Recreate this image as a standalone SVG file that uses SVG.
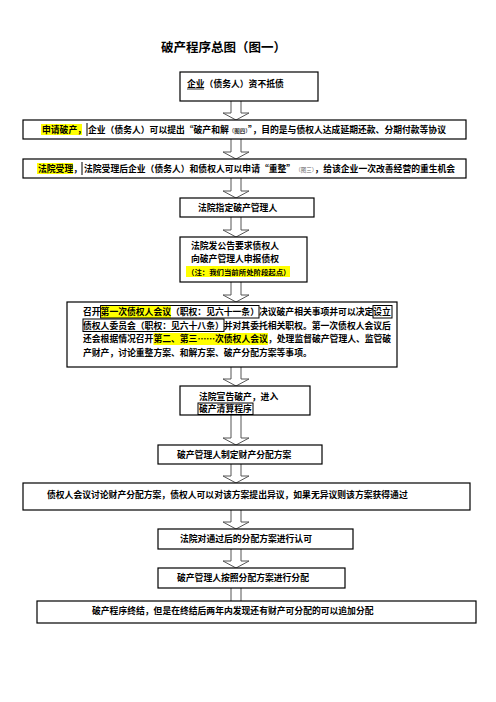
<svg xmlns="http://www.w3.org/2000/svg" width="496" height="702" viewBox="0 0 496 702">
<style>
.box{fill:#fff;stroke:#000;stroke-width:1.2}
.t{font-family:"Noto Sans CJK SC","Noto Sans",sans-serif;font-weight:bold;font-size:8.8px;fill:#000}
.sm{font-size:5.5px;font-weight:normal;fill:#666}
.hl{fill:#ffff00}
.fr{fill:none;stroke:#000;stroke-width:1}
.arr{fill:#fff;stroke:#555;stroke-width:1}
</style>
<rect width="496" height="702" fill="#fff"/>
<text x="161" y="52" style="font-family:'Noto Sans CJK SC',sans-serif;font-weight:bold;font-size:12.5px">破产程序总图（图一）</text>

<g id="connectors">
<path class="arr" d="M231,101 V113 H223 L236,120 L249,113 H241 V101"/>
<path class="arr" d="M231,139 V152 H223 L236,159 L249,152 H241 V139"/>
<path class="arr" d="M231,178 V191 H223 L236,198 L249,191 H241 V178"/>
<path class="arr" d="M231,217 V230 H223 L236,237 L249,230 H241 V217"/>
<path class="arr" d="M231,282 V295 H223 L236,302 L249,295 H241 V282"/>
<path class="arr" d="M231,367 V379 H223 L236,386 L249,379 H241 V367"/>
<path class="arr" d="M231,415 V438 H223 L236,445 L249,438 H241 V415"/>
<path class="arr" d="M231,464 V476 H223 L236,483 L249,476 H241 V464"/>
<path class="arr" d="M231,510 V522 H223 L236,529 L249,522 H241 V510"/>
<path class="arr" d="M231,549 V561 H223 L236,568 L249,561 H241 V549"/>
<path class="arr" d="M231,588 V601 M241,588 V601"/>
</g>

<g id="n1">
<rect class="box" x="180" y="72" width="138" height="29"/>
<text class="t" x="187" y="87">企业（债务人）资不抵债</text>
<line x1="187" y1="89" x2="204" y2="89" stroke="#000" stroke-width="0.8"/>
</g>

<g id="n2">
<rect class="box" x="23" y="120" width="443" height="19"/>
<rect class="hl" x="41" y="124" width="41" height="11"/>
<line x1="87" y1="123" x2="87" y2="136" stroke="#000" stroke-width="1"/>
<text class="t" x="42" y="133">申请破产，</text>
<text class="t" x="88" y="133">企业（债务人）可以提出“破产和解<tspan class="sm" style="font-weight:bold;fill:#333">（图四）</tspan>”，目的是与债权人达成延期还款、分期付款等协议</text>
</g>

<g id="n3">
<rect class="box" x="23" y="159" width="443" height="19"/>
<rect class="hl" x="37" y="163" width="36" height="11"/>
<line x1="82" y1="162" x2="82" y2="175" stroke="#000" stroke-width="1"/>
<text class="t" x="38" y="172">法院受理，</text>
<text class="t" x="84" y="172">法院受理后企业（债务人）和债权人可以申请“重整”<tspan class="sm">（图三）</tspan>，给该企业一次改善经营的重生机会</text>
</g>

<g id="n4">
<rect class="box" x="180" y="198" width="134" height="19"/>
<text class="t" x="198" y="211">法院指定破产管理人</text>
</g>

<g id="n5">
<rect class="box" x="180" y="237" width="127" height="45"/>
<text class="t" x="191" y="249">法院发公告要求债权人</text>
<text class="t" x="191" y="262">向破产管理人申报债权</text>
<rect class="hl" x="186" y="266" width="104" height="11"/>
<text class="t" x="187" y="275" style="font-size:7.4px">（注：我们当前所处阶段起点）</text>
</g>

<g id="n6">
<rect class="box" x="67" y="302" width="330" height="65"/>
<rect class="hl" x="101" y="306" width="70" height="12"/>
<rect class="fr" x="100.6" y="305.5" width="158.4" height="12.5"/>
<rect class="fr" x="373" y="305.5" width="19" height="12.5"/>
<text class="t" x="83" y="315">召开第一次债权人会议（职权：见六十一条）决议破产相关事项并可以决定设立</text>
<rect class="fr" x="83" y="319" width="141" height="12.5"/>
<text class="t" x="83" y="328.5">债权人委员会（职权：见六十八条）并对其委托相关职权。第一次债权人会议后</text>
<rect class="hl" x="153.4" y="333" width="114.6" height="12"/>
<text class="t" x="83" y="342">还会根据情况召开</text>
<text class="t" x="153.4" y="342">第二、第三</text>
<text class="t" x="197.4" y="342">……</text>
<text class="t" x="215" y="342">次债权人会议</text>
<text class="t" x="268" y="342">，处理监督破产管理人、监管破</text>
<text class="t" x="83" y="356">产财产，讨论重整方案、和解方案、破产分配方案等事项。</text>
</g>

<g id="n7">
<rect class="box" x="180" y="386" width="130" height="29"/>
<text class="t" x="199" y="400">法院宣告破产，进入</text>
<rect class="fr" x="198" y="403" width="55" height="11.5"/>
<text class="t" x="199" y="412">破产清算程序</text>
</g>

<g id="n8">
<rect class="box" x="158" y="445" width="164" height="19"/>
<text class="t" x="177" y="458">破产管理人制定财产分配方案</text>
</g>

<g id="n9">
<rect class="box" x="23" y="483" width="447" height="27"/>
<text class="t" x="47" y="498">债权人会议讨论财产分配方案，债权人可以对该方案提出异议，如果无异议则该方案获得通过</text>
</g>

<g id="n10">
<rect class="box" x="158" y="529" width="195" height="20"/>
<text class="t" x="180" y="542">法院对通过后的分配方案进行认可</text>
</g>

<g id="n11">
<rect class="box" x="158" y="568" width="187" height="20"/>
<text class="t" x="177" y="581">破产管理人按照分配方案进行分配</text>
</g>

<g id="n12">
<rect class="box" x="37" y="601" width="439" height="22"/>
<text class="t" x="92" y="614">破产程序终结，但是在终结后两年内发现还有财产可分配的可以追加分配</text>
</g>
</svg>
